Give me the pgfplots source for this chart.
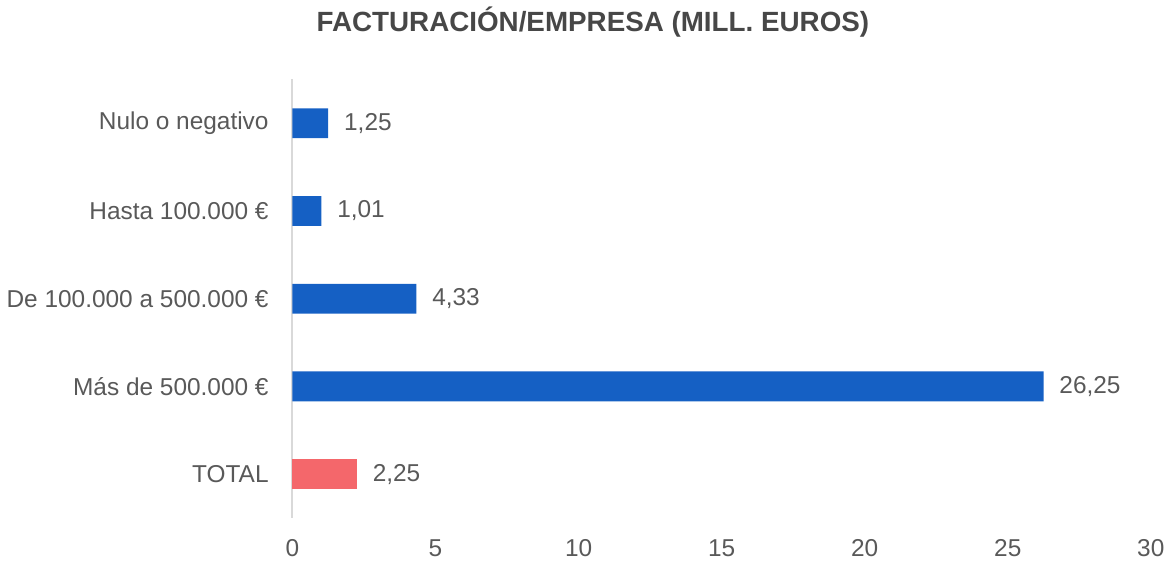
\documentclass[border=0pt]{standalone}
\usepackage{fontspec}
\setmainfont{Liberation Sans}
\usepackage{pgfplots}
\pgfplotsset{compat=1.18}

\definecolor{barblue}{HTML}{1560C4}
\definecolor{barred}{HTML}{F4676B}
\definecolor{txtgray}{HTML}{595959}
\definecolor{titlegray}{HTML}{474747}
\definecolor{axgray}{HTML}{D9D9D9}

\begin{document}
\begin{tikzpicture}
\begin{axis}[
    scale only axis,
    width=432.5pt, height=221pt,
    xbar,
    bar width=15pt,
    xmin=0, xmax=30,
    ymin=-0.5, ymax=4.5,
    xtick={0,5,...,30},
    ytick={0,1,2,3,4},
    yticklabels={TOTAL,Más de 500.000 €,De 100.000 a 500.000 €,Hasta 100.000 €,Nulo o negativo},
    major tick length=0pt,
    axis line style={draw=none},
    axis x line*=bottom,
    axis y line*=left,
    separate axis lines,
    y axis line style={draw=axgray, line width=1pt},
    /pgf/number format/assume math mode=true,
    tick label style={font=\fontsize{12.3}{14}\selectfont, text=txtgray},
    xticklabel style={yshift=-7.5pt},
    yticklabel style={xshift=-8.5pt},
    title={FACTURACIÓN/EMPRESA (MILL. EUROS)},
    title style={font=\fontsize{14}{16}\selectfont\bfseries, text=titlegray, at={(0.35,1)}, anchor=center, yshift=23pt},
    nodes near coords,
    nodes near coords style={font=\fontsize{12.3}{14}\selectfont, text=txtgray, xshift=4.5pt,
        /pgf/number format/.cd, fixed, fixed zerofill, precision=2, use comma, assume math mode=true},
    clip=false,
]
\addplot[fill=barblue, draw=none, bar shift=0pt] coordinates {
    (26.25,1) (4.33,2) (1.01,3) (1.25,4)
};
\addplot[fill=barred, draw=none, bar shift=0pt] coordinates {
    (2.25,0)
};
\end{axis}
\end{tikzpicture}
\end{document}
